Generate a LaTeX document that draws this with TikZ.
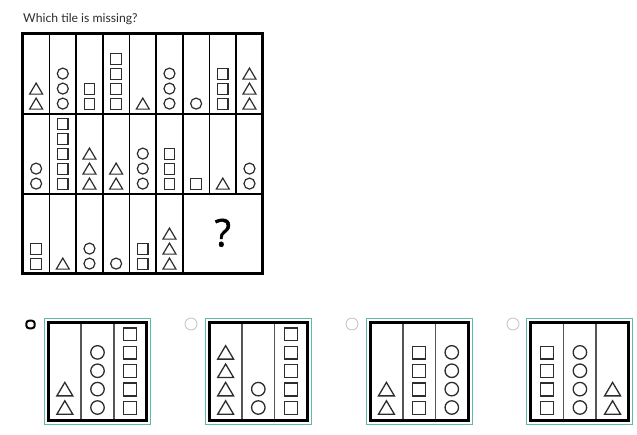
\documentclass[tikz,border=0pt]{standalone}
\usepackage{fontspec}
\setmainfont{Lato}
\newfontfamily\qfont[FakeBold=1.3]{Open Sans}
\definecolor{teal1}{RGB}{95,185,170}
\definecolor{ink}{RGB}{45,45,45}
\definecolor{divgray}{RGB}{85,85,85}
\definecolor{radiogray}{RGB}{200,200,200}
\tikzset{
  shp/.style={draw=ink, line width=1.2pt, line join=miter},
  oshp/.style={draw=ink, line width=1.3pt},
  thinline/.style={line width=1.3pt, draw=black},
  tileline/.style={line width=2.4pt, draw=black},
  outerline/.style={line width=3pt, draw=black},
  optdiv/.style={line width=1.6pt, draw=divgray},
  optframe/.style={line width=3pt, draw=black},
  tealframe/.style={line width=1pt, draw=teal1},
}
\newcommand\drawsq[2]{\draw[shp] (#1-5.25,#2-10.5) rectangle (#1+5.25,#2);}
\newcommand\drawci[2]{\draw[shp] (#1,#2-5.5) circle[radius=5.5];}
\newcommand\drawtr[2]{\draw[shp] (#1-6.5,#2) -- (#1+6.5,#2) -- (#1,#2-11) -- cycle;}
\newcommand\stripe[3]{%
  \foreach \k [evaluate=\k as \yb using 75.3-(\k-1)*15] in {1,...,#2}{%
    \csname draw#3\endcsname{#1}{\yb}}}
\newcommand\tileat[5]{% x, y, s1, s2, s3
  \begin{scope}[shift={(#1,#2)}]#3#4#5\end{scope}}
\newcommand\optat[4]{% left x, stripes
  \draw[tealframe] (#1-4,318) rectangle (#1+102,424);
  \begin{scope}[shift={(#1,322)},scale=1.225,shp/.style={oshp}]
    #2#3#4
    \draw[optdiv] (26.67,0) -- (26.67,80) (53.33,0) -- (53.33,80);
    \draw[optframe] (0,0) rectangle (80,80);
  \end{scope}}
\begin{document}
\begin{tikzpicture}[x=1pt,y=-1pt]
\useasboundingbox (0,0) rectangle (637,434);
\fill[white] (0,0) rectangle (637,434);
\node[anchor=base west, inner sep=0, text=ink, font=\fontsize{12.2}{14}\selectfont] (title) at (23,22.3) {Which tile is missing?};
% row 1
\tileat{22.8}{33.8}{\stripe{13.33}{2}{tr}}{\stripe{40}{3}{ci}}{\stripe{66.67}{2}{sq}}
\tileat{102.8}{33.8}{\stripe{13.33}{4}{sq}}{\stripe{40}{1}{tr}}{\stripe{66.67}{3}{ci}}
\tileat{182.8}{33.8}{\stripe{13.33}{1}{ci}}{\stripe{40}{3}{sq}}{\stripe{66.67}{3}{tr}}
% row 2
\tileat{22.8}{113.8}{\stripe{13.33}{2}{ci}}{\stripe{40}{5}{sq}}{\stripe{66.67}{3}{tr}}
\tileat{102.8}{113.8}{\stripe{13.33}{2}{tr}}{\stripe{40}{3}{ci}}{\stripe{66.67}{3}{sq}}
\tileat{182.8}{113.8}{\stripe{13.33}{1}{sq}}{\stripe{40}{1}{tr}}{\stripe{66.67}{2}{ci}}
% row 3
\tileat{22.8}{193.8}{\stripe{13.33}{2}{sq}}{\stripe{40}{1}{tr}}{\stripe{66.67}{2}{ci}}
\tileat{102.8}{193.8}{\stripe{13.33}{1}{ci}}{\stripe{40}{2}{sq}}{\stripe{66.67}{3}{tr}}
\node[font=\qfont\fontsize{38}{44}\selectfont, text=black, inner sep=0] (q) at (222.8,232.8) {?};
% grid lines
\foreach \x in {49.47,76.13,129.47,156.13,209.47,236.13}{\draw[thinline] (\x,33.8) -- (\x,193.8);}
\foreach \x in {49.47,76.13,129.47,156.13}{\draw[thinline] (\x,193.8) -- (\x,273.8);}
\draw[tileline] (102.8,33.8) -- (102.8,273.8) (182.8,33.8) -- (182.8,273.8)
  (22.8,113.8) -- (262.8,113.8) (22.8,193.8) -- (262.8,193.8);
\draw[outerline] (22.8,33.8) rectangle (262.8,273.8);
% options
\optat{48.5}{\stripe{13.33}{2}{tr}}{\stripe{40}{4}{ci}}{\stripe{66.67}{5}{sq}}
\optat{209.3}{\stripe{13.33}{4}{tr}}{\stripe{40}{2}{ci}}{\stripe{66.67}{5}{sq}}
\optat{370.1}{\stripe{13.33}{2}{tr}}{\stripe{40}{4}{sq}}{\stripe{66.67}{4}{ci}}
\optat{530.9}{\stripe{13.33}{4}{sq}}{\stripe{40}{4}{ci}}{\stripe{66.67}{2}{tr}}
% radios
\draw[line width=2pt, black, rounded corners=2.8pt] (26.3,320.7) rectangle (34.7,328.3);
\foreach \x in {191,352,513}{\draw[radiogray, line width=0.9pt] (\x,324) circle[radius=6];}
\end{tikzpicture}
\end{document}
